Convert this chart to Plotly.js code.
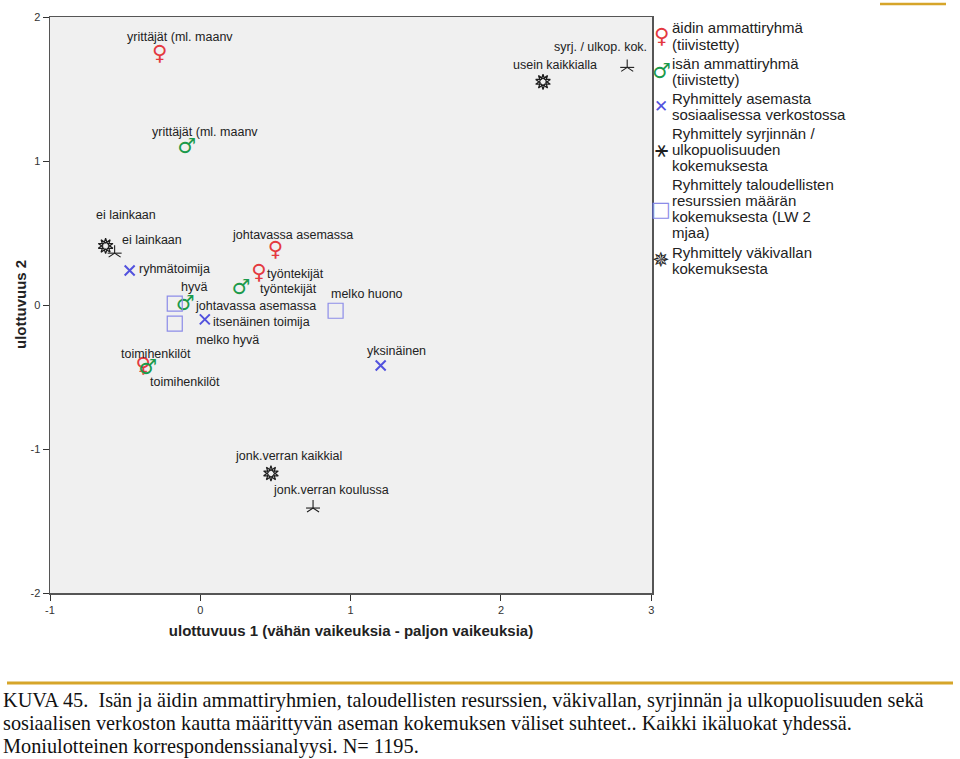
<!DOCTYPE html>
<html><head><meta charset="utf-8">
<script src="https://cdn.plot.ly/plotly-3.0.1.min.js"></script>
<style>html,body{margin:0;padding:0;background:#fff;}#chart{width:960px;height:759px;}</style>
</head><body><div id="chart"></div>
<script>
// ---------- data ----------
const motherLabels = ["yrittäjät (ml. maanv", "johtavassa asemassa", "työntekijät", "toimihenkilöt"];
const motherX = [-0.27, 0.50, 0.39, -0.38];
const motherY = [1.74, 0.38, 0.22, -0.43];

const fatherLabels = ["yrittäjät (ml. maanv", "työntekijät", "johtavassa asemassa", "toimihenkilöt"];
const fatherX = [-0.09, 0.27, -0.10, -0.35];
const fatherY = [1.09, 0.11, 0.00, -0.44];

const networkLabels = ["ryhmätoimija", "itsenäinen toimija", "yksinäinen"];
const networkX = [-0.47, 0.03, 1.20];
const networkY = [0.24, -0.10, -0.42];

const discrimLabels = ["ei lainkaan", "syrj. / ulkop. kok.", "jonk.verran koulussa"];
const discrimX = [-0.57, 2.84, 0.75];
const discrimY = [0.36, 1.65, -1.41];

const financeLabels = ["hyvä", "melko hyvä", "melko huono"];
const financeX = [-0.17, -0.17, 0.90];
const financeY = [0.01, -0.13, -0.04];

const violenceLabels = ["ei lainkaan", "usein kaikkialla", "jonk.verran kaikkial"];
const violenceX = [-0.63, 2.28, 0.47];
const violenceY = [0.41, 1.55, -1.17];

const xTicks = [-1, 0, 1, 2, 3];
const yTicks = [-2, -1, 0, 1, 2];

const xTitle = "ulottuvuus 1 (vähän vaikeuksia - paljon vaikeuksia)";
const yTitle = "ulottuvuus 2";

const legendEntries = [
  ["äidin ammattiryhmä", "(tiivistetty)"],
  ["isän ammattiryhmä", "(tiivistetty)"],
  ["Ryhmittely asemasta", "sosiaalisessa verkostossa"],
  ["Ryhmittely syrjinnän /", "ulkopuolisuuden", "kokemuksesta"],
  ["Ryhmittely taloudellisten", "resurssien määrän", "kokemuksesta (LW 2", "mjaa)"],
  ["Ryhmittely väkivallan", "kokemuksesta"]
];

const captionLines = [
  "KUVA 45.  Isän ja äidin ammattiryhmien, taloudellisten resurssien, väkivallan, syrjinnän ja ulkopuolisuuden sekä",
  "sosiaalisen verkoston kautta määrittyvän aseman kokemuksen väliset suhteet.. Kaikki ikäluokat yhdessä.",
  "Moniulotteinen korrespondenssianalyysi. N= 1195."
];

// ---------- style ----------
const RED = "#e4393f", GREEN = "#1b9a4b", BLUE = "#5252de", SQ = "#8c8ce8", BLK = "#1e1e1e";
const L = 50, R = 652, T = 17, B = 593;
const px = x => (x - L) / (R - L);
const py = y => (B - y) / (B - T);
const labelFont = {family: "Liberation Sans, Arial, sans-serif", size: 12.5, color: "#222"};

// label offsets in pixels [dx, dy(down), anchor]
const motherOff = [[20,-17,"center"],[17,-15,"center"],[6,1,"left"],[13,-13,"center"]];
const fatherOff = [[18,-16,"center"],[17,0,"left"],[8,1,"left"],[37,14,"center"]];
const networkOff = [[7,-1,"left"],[6,3,"left"],[16,-14,"center"]];
const discrimOff = [[5,-13,"left"],[-27,-20,"center"],[18,-18,"center"]];
const financeOff = [[19,-17,"center"],[53,16,"center"],[31,-17,"center"]];
const violenceOff = [[20,-31,"center"],[12,-17,"center"],[18,-17,"center"]];

const glyphFont = c => ({family: "DejaVu Sans", size: 21, color: c, weight: "bold"});

const traces = [
  {x: motherX, y: motherY, mode: "text", text: motherX.map(() => "♀"), textposition: "middle center",
   textfont: glyphFont(RED), name: "mother", showlegend: false, hoverinfo: "skip"},
  {x: fatherX, y: fatherY, mode: "text", text: fatherX.map(() => "♂"), textposition: "middle center",
   textfont: glyphFont(GREEN), name: "father", showlegend: false, hoverinfo: "skip"},
  {x: networkX, y: networkY, mode: "markers", marker: {symbol: "x-thin-open", size: 10, color: BLUE, line: {color: BLUE, width: 2}},
   showlegend: false, hoverinfo: "skip"},
  {x: discrimX, y: discrimY, mode: "markers", marker: {symbol: "y-up-open", size: 10, color: BLK, line: {color: BLK, width: 1.1}},
   showlegend: false, hoverinfo: "skip"},
  {x: discrimX, y: discrimY, mode: "markers", marker: {symbol: "line-ew-open", size: 10, color: BLK, line: {color: BLK, width: 1.1}},
   showlegend: false, hoverinfo: "skip"},
  {x: financeX, y: financeY, mode: "markers", marker: {symbol: "square-open", size: 15, color: SQ, line: {color: SQ, width: 1.2}},
   showlegend: false, hoverinfo: "skip"},
  {x: violenceX, y: violenceY, mode: "markers", marker: {symbol: "star-open", size: 11, color: BLK, line: {color: BLK, width: 1.2}},
   showlegend: false, hoverinfo: "skip"},
  {x: violenceX, y: violenceY, mode: "markers", marker: {symbol: "star-open", size: 11, angle: 36, color: BLK, line: {color: BLK, width: 1.2}},
   showlegend: false, hoverinfo: "skip"}
];

const annotations = [];
function addLabels(labels, xs, ys, offs) {
  labels.forEach((t, i) => {
    const o = offs[i];
    annotations.push({x: xs[i], y: ys[i], xref: "x", yref: "y", text: t, showarrow: false,
      xanchor: o[2], yanchor: "middle", xshift: o[0], yshift: -o[1], font: labelFont});
  });
}
addLabels(motherLabels, motherX, motherY, motherOff);
addLabels(fatherLabels, fatherX, fatherY, fatherOff);
addLabels(networkLabels, networkX, networkY, networkOff);
addLabels(discrimLabels, discrimX, discrimY, discrimOff);
addLabels(financeLabels, financeX, financeY, financeOff);
addLabels(violenceLabels, violenceX, violenceY, violenceOff);

// y axis title
annotations.push({xref: "paper", yref: "paper", x: px(20), y: py(305), text: yTitle, textangle: -90, showarrow: false,
  xanchor: "center", yanchor: "middle",
  font: {family: "Liberation Sans, Arial, sans-serif", size: 15, color: "#222", weight: "bold"}});

// legend (custom, as text)
const legendSymbols = [
  {t: "♀", c: RED, s: 21, w: "bold"},
  {t: "♂", c: GREEN, s: 21, w: "bold"},
  {t: "✕", c: BLUE, s: 17, w: "normal"},
  {t: "⚹", c: BLK, s: 22, w: "normal"},
  {t: "□", c: SQ, s: 21, w: "normal"},
  {t: "✵", c: BLK, s: 21, w: "normal"}
];
const legendFont = {family: "Liberation Sans, Arial, sans-serif", size: 15, color: "#222"};
let ly = 28;
const lineH = 16;
legendEntries.forEach((lines, k) => {
  const top = ly;
  lines.forEach(ln => {
    annotations.push({xref: "paper", yref: "paper", x: px(670), y: py(ly), text: ln, showarrow: false,
      xanchor: "left", yanchor: "middle", font: legendFont});
    ly += lineH;
  });
  const mid = (top + ly - lineH) / 2;
  const s = legendSymbols[k];
  annotations.push({xref: "paper", yref: "paper", x: px(661), y: py(mid), text: s.t, showarrow: false,
    xanchor: "center", yanchor: "middle", font: {family: "DejaVu Sans", size: s.s, color: s.c, weight: s.w}});
  ly += 3.2;
});

// caption
captionLines.forEach((ln, i) => {
  annotations.push({xref: "paper", yref: "paper", x: px(1), y: py(700 + i * 23.3), text: ln, showarrow: false,
    xanchor: "left", yanchor: "middle", font: {family: "Liberation Serif, Times New Roman, serif", size: 20.3, color: "#111"}});
});

const layout = {
  width: 960, height: 759,
  margin: {l: L, r: 960 - R, t: T, b: 759 - B},
  paper_bgcolor: "#ffffff",
  plot_bgcolor: "#f0f0f0",
  showlegend: false,
  xaxis: {range: [-1, 3.005], tickvals: xTicks, ticktext: xTicks.map(String), ticks: "outside", ticklen: 6,
    tickcolor: "#333", showgrid: false, zeroline: false, showline: true, linecolor: "#555", linewidth: 1.5, mirror: true,
    tickfont: {family: "Liberation Sans, Arial, sans-serif", size: 11, color: "#333"},
    title: {text: xTitle, font: {family: "Liberation Sans, Arial, sans-serif", size: 15, color: "#222", weight: "bold"}, standoff: 11}},
  yaxis: {range: [-2, 2], tickvals: yTicks, ticktext: yTicks.map(String), ticks: "outside", ticklen: 6,
    tickcolor: "#333", showgrid: false, zeroline: false, showline: true, linecolor: "#555", linewidth: 1.5, mirror: true,
    tickfont: {family: "Liberation Sans, Arial, sans-serif", size: 11, color: "#333"}},
  annotations: annotations,
  shapes: [
    {type: "line", xref: "paper", yref: "paper", x0: px(7), x1: px(953), y0: py(683), y1: py(683),
     line: {color: "#d6a52a", width: 3}},
    {type: "line", xref: "paper", yref: "paper", x0: px(880), x1: px(946), y0: py(4), y1: py(4),
     line: {color: "#d6a52a", width: 2.5}}
  ]
};

Plotly.newPlot("chart", traces, layout, {staticPlot: true, displayModeBar: false});
</script>
</body></html>
